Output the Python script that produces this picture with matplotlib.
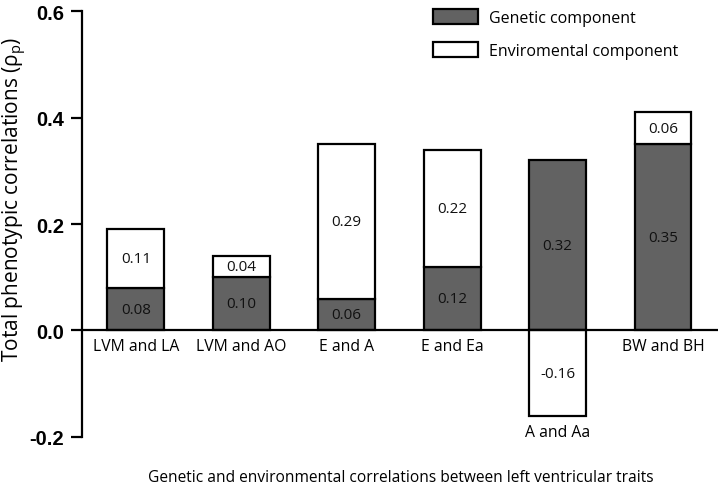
import matplotlib.pyplot as plt
from matplotlib.patches import Patch
import numpy as np

# Genetic / environmental components of the phenotypic correlations
pairs = ['LVM and LA', 'LVM and AO', 'E and A', 'E and Ea', 'A and Aa', 'BW and BH']
genetic = [0.08, 0.10, 0.06, 0.12, 0.32, 0.35]
environmental = [0.11, 0.04, 0.29, 0.22, -0.16, 0.06]
yticks = [-0.2, 0.0, 0.2, 0.4, 0.6]

GREY = '#626262'
TXT = 'Open Sans'

fig = plt.figure(figsize=(7.2, 4.85), dpi=100)
ax = fig.add_axes([0.114, 0.097, 0.883, 0.878])

x = np.arange(len(pairs))
gen = np.array(genetic)
env = np.array(environmental)
# environmental part sits on top of genetic when positive, hangs below zero when negative
env_bottom = np.where(env >= 0, gen, 0.0)

ax.bar(x, gen, width=0.54, color=GREY, edgecolor='black', linewidth=1.6, zorder=2)
ax.bar(x, env, bottom=env_bottom, width=0.54, color='white', edgecolor='black',
       linewidth=1.6, zorder=2)

for i in range(len(pairs)):
    ax.text(x[i], gen[i] / 2, f'{gen[i]:.2f}', ha='center', va='center',
            fontsize=11, family=TXT, color='#111111', zorder=3)
    ax.text(x[i], env_bottom[i] + env[i] / 2, f'{env[i]:.2f}', ha='center', va='center',
            fontsize=11, family=TXT, color='#111111', zorder=3)
    low = min(0.0, env[i])
    ax.annotate(pairs[i], (x[i], low), xytext=(0, -11.5), textcoords='offset points',
                ha='center', va='center', fontsize=11.3, family=TXT)

ax.axhline(0, color='black', linewidth=1.6, zorder=4)

ax.set_xlim(-0.51, 5.52)
ax.set_ylim(-0.2, 0.6)
ax.set_yticks(yticks)
ax.set_yticklabels([f'{t:.1f}' for t in yticks], fontsize=14.5, fontweight='bold',
                   family='Liberation Sans')
ax.tick_params(axis='y', length=8, width=1.6, direction='out', pad=5)
ax.set_xticks([])
for s in ['top', 'right', 'bottom']:
    ax.spines[s].set_visible(False)
ax.spines['left'].set_linewidth(1.6)

ax.set_ylabel('Total phenotypic correlations (\u03c1$_\\mathregular{p}$)', fontsize=15,
              family=TXT)
ax.yaxis.set_label_coords(-0.084, 0.56)
fig.text(0.557, 0.014, 'Genetic and environmental correlations between left ventricular traits',
         ha='center', va='center', fontsize=11.2, family=TXT)

handles = [Patch(facecolor=GREY, edgecolor='black', linewidth=1.6, label='Genetic component'),
           Patch(facecolor='white', edgecolor='black', linewidth=1.6, label='Enviromental component')]
ax.legend(handles=handles, loc='upper left', bbox_to_anchor=(0.588, 1.0),
          bbox_transform=fig.transFigure, frameon=False, prop={'family': TXT, 'size': 11.5},
          handlelength=2.8, handleheight=1.1, handletextpad=0.7, labelspacing=1.0,
          borderaxespad=0.2)

fig.savefig('out.png', dpi=100)
